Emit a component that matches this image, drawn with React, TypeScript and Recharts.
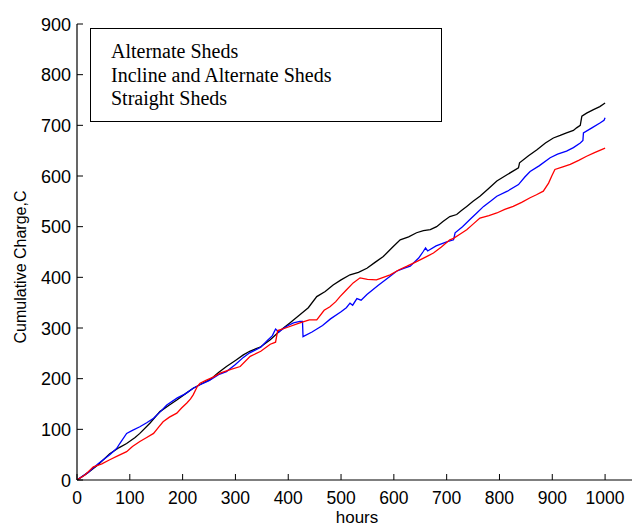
import React from 'react';
import { LineChart, Line, XAxis, YAxis, Legend } from 'recharts';

const X_TICKS = [0, 100, 200, 300, 400, 500, 600, 700, 800, 900, 1000];
const Y_TICKS = [0, 100, 200, 300, 400, 500, 600, 700, 800, 900];
const SERIES_NAMES = ['Alternate Sheds', 'Incline and Alternate Sheds', 'Straight Sheds'];
const SERIES_COLORS = ['#000000', '#0000FF', '#FF0000'];

const ALT_HOURS = [0, 20, 40, 62, 80, 94, 110, 119, 138, 157, 175, 189, 205, 220, 236, 252, 268, 283, 300, 315, 327, 348, 366, 385, 403, 422, 438, 454, 470, 485, 500, 517, 533, 549, 565, 580, 596, 612, 628, 643, 656, 669, 681, 693, 706, 719, 728, 738, 750, 763, 779, 795, 815, 836, 838, 855, 871, 887, 902, 915, 927, 940, 946, 953, 956, 965, 978, 990, 1000];
const ALT_CHARGE = [0, 14, 30, 52, 64, 72, 84, 92, 112, 135, 148, 158, 170, 181, 190, 198, 212, 224, 236, 247, 254, 263, 277, 295, 310, 326, 340, 362, 372, 385, 395, 405, 410, 418, 430, 441, 458, 474, 480, 488, 492, 494, 500, 510, 520, 524, 532, 540, 550, 560, 575, 590, 603, 616, 626, 640, 652, 665, 675, 680, 685, 690, 695, 700, 718, 724, 731, 737, 744];

const INC_HOURS = [0, 20, 40, 62, 75, 81, 94, 105, 119, 132, 145, 158, 170, 190, 205, 220, 233, 250, 268, 283, 300, 315, 327, 348, 360, 370, 376, 382, 392, 400, 410, 422, 427, 428, 445, 465, 480, 500, 510, 517, 522, 530, 538, 549, 570, 593, 605, 620, 631, 647, 655, 660, 664, 680, 700, 713, 716, 730, 744, 757, 770, 783, 795, 815, 836, 848, 858, 875, 896, 910, 927, 940, 953, 958, 959, 975, 991, 998, 1000];
const INC_CHARGE = [0, 14, 32, 50, 62, 72, 92, 98, 105, 113, 122, 135, 148, 162, 170, 181, 188, 196, 208, 214, 228, 242, 251, 262, 275, 285, 298, 292, 300, 305, 310, 313, 313, 283, 292, 305, 318, 332, 340, 349, 345, 358, 355, 366, 384, 402, 412, 418, 422, 438, 450, 458, 452, 462, 470, 474, 488, 500, 514, 527, 540, 550, 560, 570, 583, 598, 609, 620, 636, 643, 649, 656, 665, 670, 685, 695, 705, 710, 715];

const STR_HOURS = [0, 15, 31, 47, 62, 78, 94, 105, 119, 132, 145, 155, 163, 175, 189, 198, 208, 215, 220, 228, 233, 245, 258, 271, 290, 309, 328, 348, 366, 376, 380, 395, 422, 440, 454, 468, 479, 490, 498, 510, 523, 536, 550, 567, 580, 593, 610, 625, 643, 660, 675, 690, 706, 713, 725, 738, 750, 763, 780, 795, 810, 826, 842, 858, 870, 883, 893, 899, 905, 920, 934, 950, 965, 980, 1000];
const STR_CHARGE = [0, 10, 26, 32, 40, 48, 56, 66, 76, 84, 92, 105, 115, 124, 132, 142, 152, 160, 168, 185, 191, 197, 203, 211, 218, 224, 244, 254, 268, 272, 295, 300, 310, 316, 316, 335, 342, 352, 362, 375, 389, 399, 396, 395, 400, 405, 415, 422, 431, 440, 448, 460, 474, 477, 485, 494, 505, 517, 522, 527, 534, 540, 548, 557, 563, 570, 586, 600, 613, 618, 623, 631, 639, 646, 655];

const toRows = (hours: number[], charge: number[]) => hours.map((h, i) => ({ hours: h, charge: charge[i] }));
const SERIES_DATA = [toRows(ALT_HOURS, ALT_CHARGE), toRows(INC_HOURS, INC_CHARGE), toRows(STR_HOURS, STR_CHARGE)];

const SANS = '"Liberation Sans", Arial, Helvetica, sans-serif';
const SERIF = '"Liberation Serif", "Times New Roman", serif';
const TICK_LEN = 6;

const BottomTick = (props: any) => {
  const { x, y, payload } = props;
  return (
    <g>
      <line x1={x} x2={x} y1={y} y2={y - TICK_LEN} stroke="#000" strokeWidth={1} />
      <text x={x} y={y + 24} textAnchor="middle" fontSize={17.5} fontFamily={SANS} fill="#000">{payload.value}</text>
    </g>
  );
};
const TopTick = (props: any) => {
  const { x, y } = props;
  return <line x1={x} x2={x} y1={y} y2={y + TICK_LEN} stroke="#000" strokeWidth={1} />;
};
const LeftTick = (props: any) => {
  const { x, y, payload } = props;
  return (
    <g>
      <line x1={x} x2={x + TICK_LEN} y1={y} y2={y} stroke="#000" strokeWidth={1} />
      <text x={x - 6} y={y + 6.5} textAnchor="end" fontSize={18} fontFamily={SANS} fill="#000">{payload.value}</text>
    </g>
  );
};
const RightTick = (props: any) => {
  const { x, y } = props;
  return <line x1={x} x2={x - TICK_LEN} y1={y} y2={y} stroke="#000" strokeWidth={1} />;
};

const XLabel = () => (
  <text x={349} y={515} textAnchor="middle" fontSize={17} fontFamily={SANS} fill="#000">hours</text>
);
const YLabel = () => (
  <text x={12} y={259} transform="rotate(-90, 12, 259)" textAnchor="middle" dominantBaseline="central" fontSize={16} fontFamily={SANS} fill="#000">Cumulative Charge,C</text>
);

const LegendBox = () => (
  <div style={{ width: 352, height: 94, border: '1.5px solid #000', boxSizing: 'border-box', background: '#fff', fontFamily: SERIF, fontSize: 20, lineHeight: '23.5px', color: '#000', paddingTop: 11, paddingLeft: 20 }}>
    {SERIES_NAMES.map((n) => (
      <div key={n} style={{ whiteSpace: 'nowrap' }}>{n}</div>
    ))}
  </div>
);

export default function App() {
  return (
    <div style={{ width: 632, height: 519, overflow: 'hidden', position: 'relative', background: '#fff' }}>
      <LineChart width={640} height={519} margin={{ top: 16, right: 7, left: 0, bottom: 0 }}>
        <XAxis xAxisId="bottom" type="number" dataKey="hours" domain={[0, 1068]} ticks={X_TICKS} allowDataOverflow
          height={47} tickSize={0} tickMargin={0} tickLine={false} tick={BottomTick} interval={0}
          axisLine={{ stroke: '#000', strokeWidth: 1.2 }} label={<XLabel />} />
        <XAxis xAxisId="top" orientation="top" type="number" dataKey="hours" domain={[0, 1068]} ticks={X_TICKS} allowDataOverflow
          height={0} tickSize={0} tickMargin={0} tickLine={false} tick={TopTick} interval={0}
          axisLine={{ stroke: '#000', strokeWidth: 1.2 }} />
        <YAxis yAxisId="left" type="number" domain={[0, 900]} ticks={Y_TICKS} allowDataOverflow width={69}
          tickSize={0} tickMargin={0} tickLine={false} tick={LeftTick} interval={0}
          axisLine={{ stroke: '#000', strokeWidth: 1.2 }} label={<YLabel />} />
        <YAxis yAxisId="right" orientation="right" type="number" domain={[0, 900]} ticks={Y_TICKS} allowDataOverflow width={0}
          tickSize={0} tickMargin={0} tickLine={false} tick={RightTick} interval={0}
          axisLine={{ stroke: '#000', strokeWidth: 1.2 }} />
        {SERIES_DATA.map((rows, i) => (
          <Line key={SERIES_NAMES[i]} xAxisId="bottom" yAxisId="left" data={rows} dataKey="charge" name={SERIES_NAMES[i]}
            type="linear" stroke={SERIES_COLORS[i]} strokeWidth={1.3} dot={false} activeDot={false} isAnimationActive={false} />
        ))}
        <Legend layout="vertical" align="center" verticalAlign="middle" content={<LegendBox />}
          wrapperStyle={{ left: 82, top: 20, width: 352, height: 94 }} />
      </LineChart>
    </div>
  );
}
